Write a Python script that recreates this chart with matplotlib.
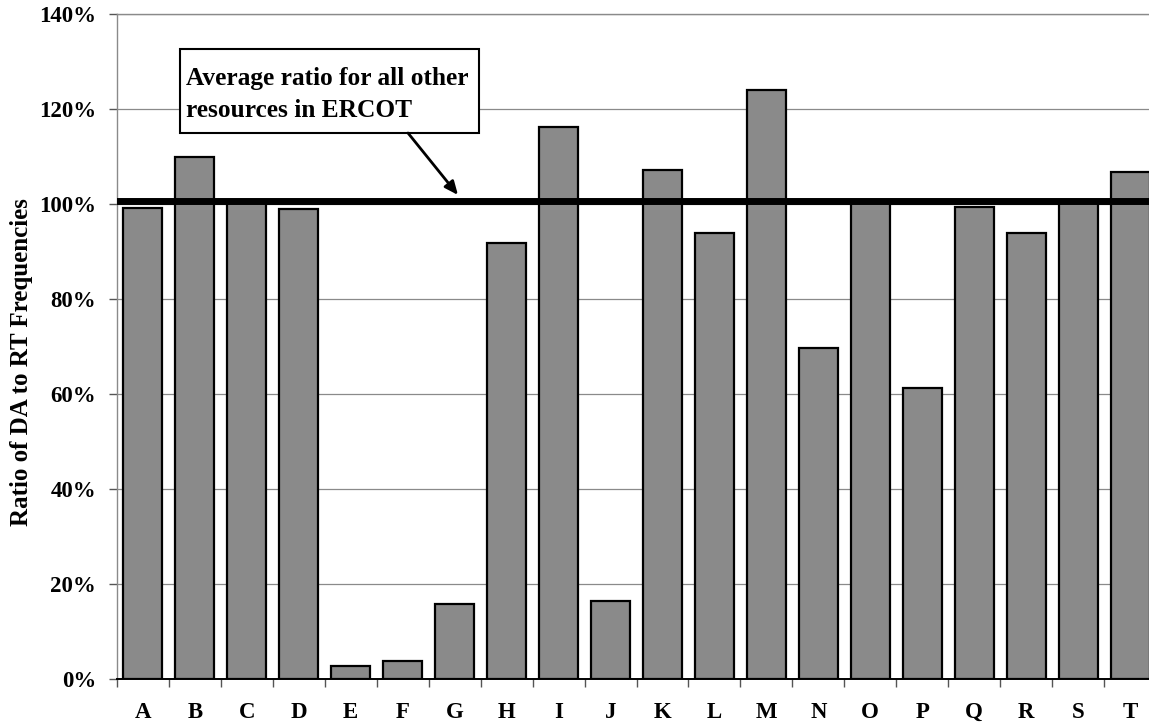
import matplotlib
matplotlib.use("Agg")
import matplotlib.pyplot as plt
from matplotlib.patches import Rectangle
import numpy as np

categories = list("ABCDEFGHIJKLMNOPQRST")
ratios = [99.2, 109.9, 100.2, 99.0, 2.7, 3.8, 15.8, 91.8, 116.2, 16.4,
          107.1, 93.9, 124.0, 69.7, 100.2, 61.3, 99.4, 93.9, 100.2, 106.7]
average_ratio = 100.7
y_ticks = [0, 20, 40, 60, 80, 100, 120, 140]
y_tick_labels = [f"{v}%" for v in y_ticks]
annotation_lines = ["Average ratio for all other", "resources in ERCOT"]
y_label = "Ratio of DA to RT Frequencies"

FONT = "Liberation Serif"
W, H = 1149, 724
fig = plt.figure(figsize=(W / 100, H / 100), dpi=100)
left_px, right_px, top_px, bottom_px = 117, 1156, 14, 679
ax = fig.add_axes([left_px / W, 1 - bottom_px / H,
                   (right_px - left_px) / W, (bottom_px - top_px) / H])

x = np.arange(len(categories))
ax.bar(x, ratios, width=0.75, color="#8a8a8a", edgecolor="black",
       linewidth=1.6, zorder=2)
ax.axhline(average_ratio, color="black", linewidth=5.0, zorder=3)

ax.set_xlim(-0.5, len(categories) - 0.5)
ax.set_ylim(0, 140)
ax.set_yticks(y_ticks)
ax.set_yticklabels(y_tick_labels, fontfamily=FONT, fontweight="bold", fontsize=16.5)
ax.set_xticks(x)
ax.set_xticklabels(categories, fontfamily=FONT, fontweight="bold", fontsize=16.5)
ax.set_xticks(np.arange(-0.5, len(categories)), minor=True)
ax.tick_params(axis="x", which="major", length=0, pad=16.5)
ax.tick_params(axis="x", which="minor", length=6, width=1, color="#555555",
               direction="out")
ax.tick_params(axis="y", length=6, width=1, color="#555555", pad=9,
               direction="out")

ax.grid(axis="y", color="#8a8a8a", linewidth=0.9, zorder=0)
ax.set_axisbelow(True)
for s in ["top", "left"]:
    ax.spines[s].set_color("#8a8a8a")
    ax.spines[s].set_linewidth(1.0)
ax.spines["right"].set_visible(False)
ax.spines["bottom"].set_color("black")
ax.spines["bottom"].set_linewidth(1.4)

fig.text(22 / W, 1 - 362 / H, y_label, rotation=90, ha="center", va="center",
         fontfamily=FONT, fontweight="bold", fontsize=18)

# annotation box
def ax_x(px):
    return (px - left_px) / (right_px - left_px)

def ax_y(py):
    return (bottom_px - py) / (bottom_px - top_px)

box = Rectangle((ax_x(180), ax_y(133)), ax_x(479) - ax_x(180),
                ax_y(49) - ax_y(133), transform=ax.transAxes,
                facecolor="white", edgecolor="black", linewidth=1.5, zorder=5)
ax.add_patch(box)
ax.text(ax_x(186), ax_y(85), annotation_lines[0], transform=ax.transAxes,
        ha="left", va="baseline", fontfamily=FONT, fontweight="bold",
        fontsize=18.3, zorder=6)
ax.text(ax_x(186), ax_y(117), annotation_lines[1], transform=ax.transAxes,
        ha="left", va="baseline", fontfamily=FONT, fontweight="bold",
        fontsize=18.3, zorder=6)
ax.annotate("", xy=(ax_x(458), ax_y(195)), xytext=(ax_x(408), ax_y(133)),
            xycoords=ax.transAxes, textcoords=ax.transAxes,
            arrowprops=dict(arrowstyle="-|>,head_length=0.8,head_width=0.35",
                            color="black", linewidth=2.0, shrinkA=0, shrinkB=0),
            zorder=6)

fig.savefig("out.png", dpi=100)
